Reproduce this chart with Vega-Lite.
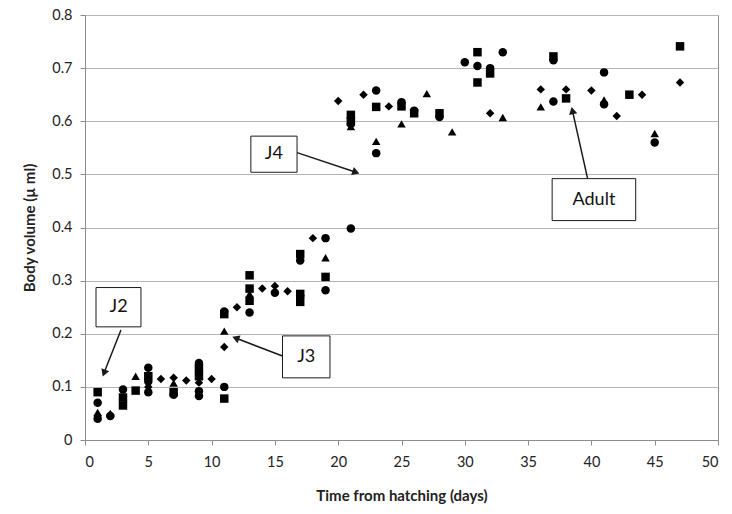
{
  "$schema": "https://vega.github.io/schema/vega-lite/v6.json",
  "width": 633,
  "height": 425,
  "autosize": {"type": "none"},
  "padding": {"left": 85, "top": 15, "right": 14, "bottom": 74},
  "background": "white",
  "config": {
    "view": {"stroke": "#8c8c8c", "strokeWidth": 1},
    "font": "Lato",
    "axis": {
      "labelFont": "Lato",
      "titleFont": "Lato",
      "labelFontSize": 14.5,
      "titleFontSize": 15,
      "labelColor": "#222222",
      "titleColor": "#222222",
      "domainColor": "#8c8c8c",
      "tickColor": "#8c8c8c",
      "gridColor": "#b5b5b5"
    }
  },
  "datasets": {
    "pts": [
      {"day": 1, "vol": 0.09, "s": "S"}, {"day": 1, "vol": 0.07, "s": "C"}, {"day": 1, "vol": 0.052, "s": "T"}, {"day": 1, "vol": 0.045, "s": "D"}, {"day": 1, "vol": 0.04, "s": "C"},
      {"day": 2, "vol": 0.05, "s": "T"}, {"day": 2, "vol": 0.045, "s": "C"}, {"day": 2, "vol": 0.047, "s": "D"},
      {"day": 3, "vol": 0.095, "s": "C"}, {"day": 3, "vol": 0.08, "s": "S"}, {"day": 3, "vol": 0.065, "s": "S"},
      {"day": 4, "vol": 0.12, "s": "T"}, {"day": 4, "vol": 0.093, "s": "S"},
      {"day": 5, "vol": 0.136, "s": "C"}, {"day": 5, "vol": 0.12, "s": "S"}, {"day": 5, "vol": 0.11, "s": "C"}, {"day": 5, "vol": 0.1, "s": "D"}, {"day": 5, "vol": 0.09, "s": "C"},
      {"day": 6, "vol": 0.115, "s": "D"},
      {"day": 7, "vol": 0.117, "s": "D"}, {"day": 7, "vol": 0.107, "s": "T"}, {"day": 7, "vol": 0.09, "s": "S"}, {"day": 7, "vol": 0.085, "s": "C"},
      {"day": 8, "vol": 0.112, "s": "D"},
      {"day": 9, "vol": 0.145, "s": "C"}, {"day": 9, "vol": 0.135, "s": "S"}, {"day": 9, "vol": 0.12, "s": "S"}, {"day": 9, "vol": 0.108, "s": "D"}, {"day": 9, "vol": 0.092, "s": "C"}, {"day": 9, "vol": 0.083, "s": "C"},
      {"day": 10, "vol": 0.115, "s": "D"},
      {"day": 11, "vol": 0.237, "s": "S"}, {"day": 11, "vol": 0.242, "s": "C"}, {"day": 11, "vol": 0.205, "s": "T"}, {"day": 11, "vol": 0.175, "s": "D"}, {"day": 11, "vol": 0.1, "s": "C"}, {"day": 11, "vol": 0.078, "s": "S"},
      {"day": 12, "vol": 0.25, "s": "D"},
      {"day": 13, "vol": 0.31, "s": "S"}, {"day": 13, "vol": 0.285, "s": "S"}, {"day": 13, "vol": 0.275, "s": "T"}, {"day": 13, "vol": 0.262, "s": "S"}, {"day": 13, "vol": 0.24, "s": "C"},
      {"day": 14, "vol": 0.285, "s": "D"},
      {"day": 15, "vol": 0.29, "s": "D"}, {"day": 15, "vol": 0.277, "s": "C"},
      {"day": 16, "vol": 0.28, "s": "D"},
      {"day": 17, "vol": 0.35, "s": "S"}, {"day": 17, "vol": 0.338, "s": "C"}, {"day": 17, "vol": 0.275, "s": "S"}, {"day": 17, "vol": 0.272, "s": "C"}, {"day": 17, "vol": 0.26, "s": "S"},
      {"day": 18, "vol": 0.38, "s": "D"},
      {"day": 19, "vol": 0.38, "s": "C"}, {"day": 19, "vol": 0.343, "s": "T"}, {"day": 19, "vol": 0.307, "s": "S"}, {"day": 19, "vol": 0.282, "s": "C"},
      {"day": 20, "vol": 0.638, "s": "D"},
      {"day": 21, "vol": 0.398, "s": "C"}, {"day": 21, "vol": 0.612, "s": "S"}, {"day": 21, "vol": 0.6, "s": "S"}, {"day": 21, "vol": 0.595, "s": "C"}, {"day": 21, "vol": 0.59, "s": "T"},
      {"day": 22, "vol": 0.65, "s": "D"},
      {"day": 23, "vol": 0.658, "s": "C"}, {"day": 23, "vol": 0.627, "s": "S"}, {"day": 23, "vol": 0.562, "s": "T"}, {"day": 23, "vol": 0.54, "s": "C"},
      {"day": 24, "vol": 0.628, "s": "D"},
      {"day": 25, "vol": 0.636, "s": "C"}, {"day": 25, "vol": 0.628, "s": "S"}, {"day": 25, "vol": 0.595, "s": "T"},
      {"day": 26, "vol": 0.62, "s": "C"}, {"day": 26, "vol": 0.615, "s": "S"},
      {"day": 27, "vol": 0.652, "s": "T"},
      {"day": 28, "vol": 0.615, "s": "S"}, {"day": 28, "vol": 0.608, "s": "C"},
      {"day": 29, "vol": 0.58, "s": "T"},
      {"day": 30, "vol": 0.711, "s": "C"},
      {"day": 31, "vol": 0.73, "s": "S"}, {"day": 31, "vol": 0.704, "s": "C"}, {"day": 31, "vol": 0.673, "s": "S"},
      {"day": 32, "vol": 0.7, "s": "C"}, {"day": 32, "vol": 0.69, "s": "S"}, {"day": 32, "vol": 0.615, "s": "D"},
      {"day": 33, "vol": 0.73, "s": "C"}, {"day": 33, "vol": 0.607, "s": "T"},
      {"day": 36, "vol": 0.66, "s": "D"}, {"day": 36, "vol": 0.627, "s": "T"},
      {"day": 37, "vol": 0.722, "s": "S"}, {"day": 37, "vol": 0.715, "s": "C"}, {"day": 37, "vol": 0.637, "s": "C"},
      {"day": 38, "vol": 0.66, "s": "D"}, {"day": 38, "vol": 0.643, "s": "S"},
      {"day": 40, "vol": 0.658, "s": "D"},
      {"day": 41, "vol": 0.692, "s": "C"}, {"day": 41, "vol": 0.632, "s": "C"}, {"day": 41, "vol": 0.64, "s": "T"},
      {"day": 42, "vol": 0.61, "s": "D"},
      {"day": 43, "vol": 0.65, "s": "S"},
      {"day": 44, "vol": 0.65, "s": "D"},
      {"day": 45, "vol": 0.577, "s": "T"}, {"day": 45, "vol": 0.56, "s": "C"},
      {"day": 47, "vol": 0.741, "s": "S"}, {"day": 47, "vol": 0.673, "s": "D"}
    ],
    "boxes": [
      {"label": "J2", "x1": 0.87, "x2": 4.42, "y1": 0.287, "y2": 0.213, "cx": 2.65, "cy": 0.25},
      {"label": "J3", "x1": 15.6, "x2": 19.35, "y1": 0.196, "y2": 0.117, "cx": 17.47, "cy": 0.157},
      {"label": "J4", "x1": 13.1, "x2": 16.75, "y1": 0.572, "y2": 0.504, "cx": 14.92, "cy": 0.538},
      {"label": "Adult", "x1": 36.9, "x2": 43.5, "y1": 0.492, "y2": 0.413, "cx": 40.2, "cy": 0.452}
    ],
    "arrows": [
      {"label": "J2", "fx": 2.84, "fy": 0.207, "tx": 1.5, "ty": 0.126},
      {"label": "J3", "fx": 15.6, "fy": 0.158, "tx": 11.9, "ty": 0.192},
      {"label": "J4", "fx": 16.75, "fy": 0.541, "tx": 21.4, "ty": 0.504},
      {"label": "Adult", "fx": 39.7, "fy": 0.492, "tx": 38.5, "ty": 0.62}
    ]
  },
  "layer": [
    {
      "data": {"name": "arrows"},
      "mark": {"type": "rule", "color": "#1a1a1a", "strokeWidth": 1.5},
      "encoding": {
        "x": {"field": "fx", "type": "quantitative"},
        "y": {"field": "fy", "type": "quantitative"},
        "x2": {"field": "tx"},
        "y2": {"field": "ty"}
      }
    },
    {
      "data": {"name": "arrows"},
      "transform": [{"filter": "datum.label == 'J2'"}],
      "mark": {"type": "point", "shape": "triangle-up", "filled": true, "color": "#1a1a1a", "opacity": 1, "size": 70, "angle": 201},
      "encoding": {"x": {"field": "tx", "type": "quantitative"}, "y": {"field": "ty", "type": "quantitative"}}
    },
    {
      "data": {"name": "arrows"},
      "transform": [{"filter": "datum.label == 'J3'"}],
      "mark": {"type": "point", "shape": "triangle-up", "filled": true, "color": "#1a1a1a", "opacity": 1, "size": 70, "angle": 291},
      "encoding": {"x": {"field": "tx", "type": "quantitative"}, "y": {"field": "ty", "type": "quantitative"}}
    },
    {
      "data": {"name": "arrows"},
      "transform": [{"filter": "datum.label == 'J4'"}],
      "mark": {"type": "point", "shape": "triangle-up", "filled": true, "color": "#1a1a1a", "opacity": 1, "size": 70, "angle": 109},
      "encoding": {"x": {"field": "tx", "type": "quantitative"}, "y": {"field": "ty", "type": "quantitative"}}
    },
    {
      "data": {"name": "arrows"},
      "transform": [{"filter": "datum.label == 'Adult'"}],
      "mark": {"type": "point", "shape": "triangle-up", "filled": true, "color": "#1a1a1a", "opacity": 1, "size": 70, "angle": 348},
      "encoding": {"x": {"field": "tx", "type": "quantitative"}, "y": {"field": "ty", "type": "quantitative"}}
    },
    {
      "data": {"name": "pts"},
      "mark": {"type": "point", "filled": true, "opacity": 1, "color": "black", "size": 72},
      "encoding": {
        "x": {
          "field": "day", "type": "quantitative",
          "scale": {"domain": [0, 50], "nice": false},
          "axis": {"values": [0, 5, 10, 15, 20, 25, 30, 35, 40, 45, 50], "grid": false, "tickSize": 5, "labelPadding": 10, "title": "Time from hatching (days)", "titleFontWeight": "bold", "titlePadding": 20}
        },
        "y": {
          "field": "vol", "type": "quantitative",
          "scale": {"domain": [0, 0.8], "nice": false},
          "axis": {"values": [0, 0.1, 0.2, 0.3, 0.4, 0.5, 0.6, 0.7, 0.8], "grid": true, "tickSize": 5, "labelPadding": 8, "labelExpr": "datum.value == 0 ? '0' : format(datum.value, '.1f')", "title": "Body volume (µ ml)", "titleFontWeight": "bold", "titlePadding": 14}
        },
        "shape": {
          "field": "s", "type": "nominal",
          "scale": {"domain": ["D", "S", "T", "C"], "range": ["diamond", "square", "triangle-up", "circle"]},
          "legend": null
        }
      }
    },
    {
      "data": {"name": "boxes"},
      "mark": {"type": "rect", "fill": "white", "stroke": "#1a1a1a", "strokeWidth": 1},
      "encoding": {
        "x": {"field": "x1", "type": "quantitative"},
        "x2": {"field": "x2"},
        "y": {"field": "y1", "type": "quantitative"},
        "y2": {"field": "y2"}
      }
    },
    {
      "data": {"name": "boxes"},
      "mark": {"type": "text", "font": "Lato", "fontSize": 18, "color": "#111111", "align": "center", "baseline": "middle"},
      "encoding": {
        "x": {"field": "cx", "type": "quantitative"},
        "y": {"field": "cy", "type": "quantitative"},
        "text": {"field": "label"}
      }
    }
  ]
}
